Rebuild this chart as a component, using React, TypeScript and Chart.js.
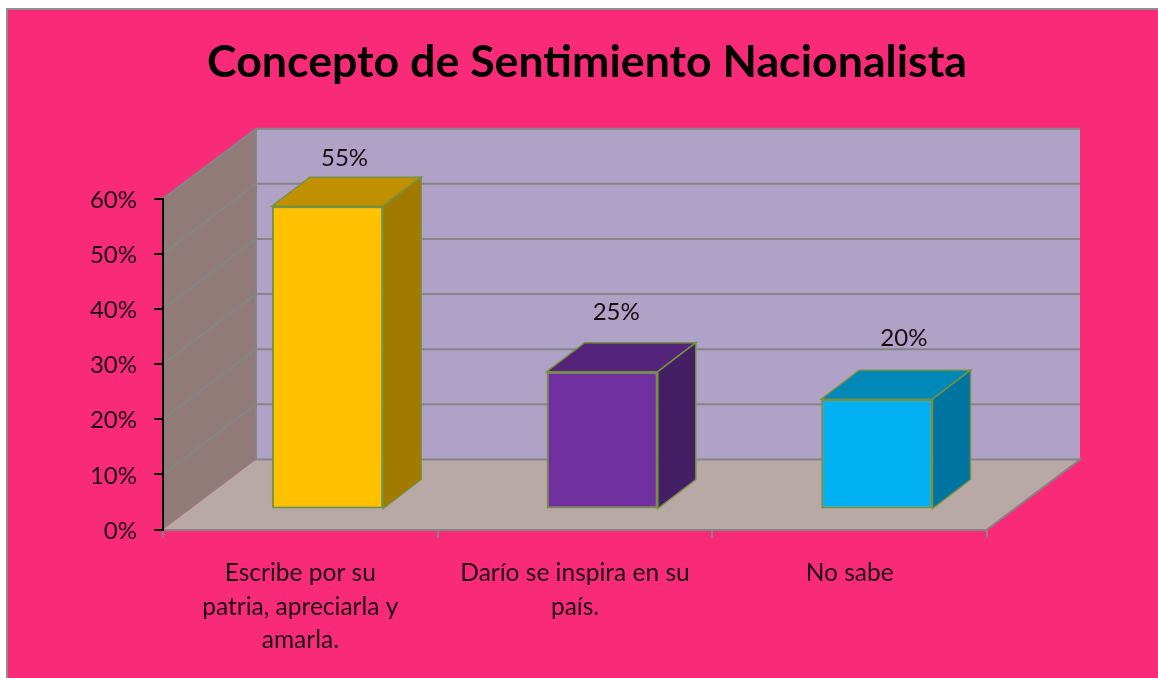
import React, { useEffect, useRef } from "react";
import { Chart, registerables } from "chart.js";

Chart.register(...registerables);

const categories = [
  ["Escribe por su", "patria, apreciarla y", "amarla."],
  ["Darío se inspira en su", "país."],
  ["No sabe"],
];
const values = [55, 25, 20];
const frontColors = ["#FFC000", "#7030A0", "#00B0F0"];
const topColors = ["#C09000", "#54247A", "#0088B8"];
const sideColors = ["#A27A00", "#451F66", "#0074A0"];
const labelShifts = [
  [17, -48],
  [14, -59.5],
  [27, -61],
];

const FONT = "Lato, Carlito, 'Noto Sans', sans-serif";
const TEXT = "#1c0a12";
const GRID = "#858585";
const EDGE = "#76913F";
const WALL = { dx: 93, dy: -70 };
const BAR_DEPTH = { dx: 38, dy: -29 };
const BAR_SHIFT = { dx: 27.2, dy: -20 };

const poly = (c: CanvasRenderingContext2D, pts: number[][], fill?: string, stroke?: string, lw = 1.5) => {
  c.beginPath();
  pts.forEach(([x, y], i) => (i ? c.lineTo(x, y) : c.moveTo(x, y)));
  c.closePath();
  if (fill) {
    c.fillStyle = fill;
    c.fill();
  }
  if (stroke) {
    c.strokeStyle = stroke;
    c.lineWidth = lw;
    c.stroke();
  }
};

const scene = {
  id: "scene",
  beforeDraw(chart: any) {
    const c = chart.ctx as CanvasRenderingContext2D;
    const { left, right, top, bottom } = chart.chartArea;
    const y = chart.scales.y;
    c.save();
    c.fillStyle = "#ffffff";
    c.fillRect(0, 0, chart.width, chart.height);
    c.fillStyle = "#8f8f8f";
    c.fillRect(6, 8, chart.width - 6, chart.height - 8);
    c.fillStyle = "#F92A78";
    c.fillRect(8, 10, chart.width - 8, chart.height - 10);
    const { dx, dy } = WALL;
    poly(c, [[left + dx, top + dy], [right + dx, top + dy], [right + dx, bottom + dy], [left + dx, bottom + dy]], "#B0A2C6");
    poly(c, [[left, bottom], [left + dx, bottom + dy], [left + dx, top + dy], [left, top]], "#917B79");
    poly(c, [[left, bottom], [right, bottom], [right + dx, bottom + dy], [left + dx, bottom + dy]], "#B8A8A6");
    c.strokeStyle = GRID;
    c.lineWidth = 2;
    c.beginPath();
    c.moveTo(right, bottom);
    c.lineTo(right + dx, bottom + dy);
    c.lineTo(left + dx, bottom + dy);
    c.lineTo(left + dx, top + dy);
    c.stroke();
    y.ticks.forEach((t: any) => {
      const py = y.getPixelForValue(t.value);
      if (t.value === 0) return;
      c.beginPath();
      c.moveTo(left, py);
      c.lineTo(left + dx, py + dy);
      c.lineTo(right + dx, py + dy);
      c.stroke();
    });
    c.restore();
  },
  beforeDatasetDraw(chart: any) {
    const c = chart.ctx as CanvasRenderingContext2D;
    c.save();
    c.translate(BAR_SHIFT.dx, BAR_SHIFT.dy);
    chart.getDatasetMeta(0).data.forEach((el: any, i: number) => {
      const { x, y, base, width } = el.getProps(["x", "y", "base", "width"]);
      const l = x - width / 2;
      const r = x + width / 2;
      const { dx, dy } = BAR_DEPTH;
      poly(c, [[l, y], [r, y], [r + dx, y + dy], [l + dx, y + dy]], topColors[i], EDGE);
      poly(c, [[r, y], [r + dx, y + dy], [r + dx, base + dy], [r, base]], sideColors[i], EDGE);
    });
  },
  afterDatasetDraw(chart: any) {
    chart.ctx.restore();
  },
  afterDatasetsDraw(chart: any) {
    const c = chart.ctx as CanvasRenderingContext2D;
    c.save();
    c.font = `24px ${FONT}`;
    c.fillStyle = TEXT;
    c.textAlign = "center";
    c.textBaseline = "middle";
    chart.getDatasetMeta(0).data.forEach((el: any, i: number) => {
      const { x, y } = el.getProps(["x", "y"]);
      c.fillText(`${values[i]}%`, x + BAR_SHIFT.dx + labelShifts[i][0], y + BAR_SHIFT.dy + labelShifts[i][1]);
    });
    c.restore();
  },
};

export default function App() {
  const ref = useRef<HTMLCanvasElement>(null);
  useEffect(() => {
    document.body.style.margin = "0";
    document.documentElement.style.background = "#F92A78";
    const chart = new Chart(ref.current!, {
      type: "bar",
      data: {
        labels: categories as any,
        datasets: [
          {
            data: values,
            backgroundColor: frontColors,
            borderColor: EDGE,
            borderWidth: 2,
            borderSkipped: false,
            categoryPercentage: 1,
            barPercentage: 0.405,
          },
        ],
      },
      plugins: [scene],
      options: {
        responsive: false,
        animation: false,
        layout: { padding: { left: 16, right: 0, top: 0, bottom: 0 } },
        plugins: {
          legend: { display: false },
          tooltip: { enabled: false },
          title: {
            display: true,
            text: "Concepto de Sentimiento Nacionalista",
            color: "#000000",
            font: { family: FONT, size: 44.7, weight: "bold", lineHeight: 1.2 },
            padding: { top: 36, bottom: 109 },
          },
        },
        scales: {
          x: {
            offset: true,
            afterFit: (s: any) => {
              s.height = 148.5;
            },
            border: { color: GRID, width: 2 },
            grid: { offset: true, drawOnChartArea: false, color: GRID, tickLength: 8, lineWidth: 2 },
            ticks: {
              color: TEXT,
              padding: 19,
              maxRotation: 0,
              autoSkip: false,
              font: { family: FONT, size: 24.5, lineHeight: 1.37 },
            },
          },
          y: {
            min: 0,
            max: 60,
            afterFit: (s: any) => {
              s.width = 147;
            },
            border: { color: "#000000", width: 2 },
            grid: { drawOnChartArea: false, color: "#000000", tickLength: 9, lineWidth: 2 },
            ticks: {
              stepSize: 10,
              color: TEXT,
              padding: 17,
              labelOffset: 1.5,
              font: { family: FONT, size: 24 },
              callback: (v: any) => `${v}%`,
            },
          },
          yRight: {
            axis: "y",
            position: "right",
            afterFit: (s: any) => {
              s.width = 171;
            },
            border: { display: false },
            grid: { display: false },
            ticks: { display: false },
          },
        },
      } as any,
    });
    return () => chart.destroy();
  }, []);
  return <canvas ref={ref} width={1158} height={678} style={{ display: "block", filter: "blur(0.5px)" }} />;
}
